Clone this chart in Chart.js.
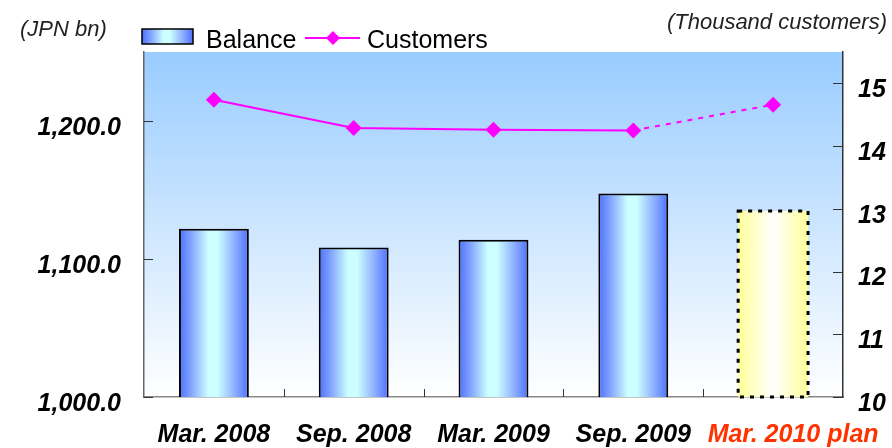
<!DOCTYPE html>
<html>
<head>
<meta charset="utf-8">
<script src="https://cdn.jsdelivr.net/npm/chart.js@4.4.1/dist/chart.umd.min.js"></script>
<style>
  html, body { margin: 0; padding: 0; background: #fff; }
  #wrap { width: 892px; height: 448px; position: relative; }
</style>
</head>
<body>
<div id="wrap"><canvas id="balanceChart" width="892" height="448"></canvas></div>
<script>
var categories = ['Mar. 2008', 'Sep. 2008', 'Mar. 2009', 'Sep. 2009', 'Mar. 2010 plan'];
var balance = [1122, 1108.4, 1114, 1147.4, 1134.8];
var customers = [14.74, 14.29, 14.26, 14.25, 14.66];
var balanceTicks = [1000, 1100, 1200];
var customerTicks = [10, 11, 12, 13, 14, 15];
var labelColors = ['#000', '#000', '#000', '#000', '#ff3300'];

var FONT = "'Liberation Sans', Arial, sans-serif";
var TICK_FONT = { family: FONT, size: 25, weight: 'bold', style: 'italic' };

function barGradient(ctx, x0, x1, plan) {
    var g = ctx.createLinearGradient(x0, 0, x1, 0);
    if (plan) {
        g.addColorStop(0, '#ffff99');
        g.addColorStop(0.5, '#ffffff');
        g.addColorStop(1, '#ffff99');
    } else {
        g.addColorStop(0, '#4a70ff');
        g.addColorStop(0.18, '#85a6ff');
        g.addColorStop(0.42, '#ccffff');
        g.addColorStop(0.55, '#ccffff');
        g.addColorStop(0.82, '#88a8ff');
        g.addColorStop(1, '#4a70ff');
    }
    return g;
}

var decorPlugin = {
    id: 'decor',
    beforeDraw: function(chart) {
        var c = chart.ctx, a = chart.chartArea;
        c.save();
        var g = c.createLinearGradient(0, a.top, 0, a.bottom);
        g.addColorStop(0, '#99ccff');
        g.addColorStop(1, '#ffffff');
        c.fillStyle = g;
        c.fillRect(a.left, a.top, a.right - a.left, a.bottom - a.top);
        c.restore();
    },
    beforeDatasetsDraw: function(chart) {
        // horizontal gradient fill per bar, from the bar's own geometry
        chart.getDatasetMeta(1).data.forEach(function(el, i) {
            var p = el.getProps(['x', 'width'], true);
            if (!isFinite(p.x) || !isFinite(p.width)) return;
            el.options.backgroundColor = barGradient(chart.ctx, p.x - p.width / 2, p.x + p.width / 2, i === 4);
        });
    },
    afterDatasetsDraw: function(chart) {
        // dashed outline of the plan bar
        var c = chart.ctx, a = chart.chartArea;
        var el = chart.getDatasetMeta(1).data[4];
        if (!el) return;
        var p = el.getProps(['x', 'y', 'base', 'width'], true);
        var bottom = Math.min(p.base, a.bottom);
        c.save();
        c.strokeStyle = '#000';
        c.lineWidth = 3;
        c.setLineDash([4, 6]);
        c.strokeRect(p.x - p.width / 2, p.y, p.width, bottom - p.y);
        c.restore();
    },
    afterDraw: function(chart) {
        var c = chart.ctx, a = chart.chartArea;
        var y = chart.scales.y, y1 = chart.scales.y1, x = chart.scales.x;
        c.save();
        // inward tick marks
        c.strokeStyle = '#333';
        c.lineWidth = 1;
        balanceTicks.forEach(function(v) {
            var py = Math.round(y.getPixelForValue(v)) + 0.5;
            c.beginPath(); c.moveTo(a.left, py); c.lineTo(a.left + 9, py); c.stroke();
        });
        customerTicks.forEach(function(v) {
            var py = Math.round(y1.getPixelForValue(v)) + 0.5;
            c.beginPath(); c.moveTo(a.right, py); c.lineTo(a.right - 10, py); c.stroke();
        });
        for (var i = 1; i < categories.length; i++) {
            var px = Math.round((x.getPixelForValue(i - 1) + x.getPixelForValue(i)) / 2) + 0.5;
            c.beginPath(); c.moveTo(px, a.bottom); c.lineTo(px, a.bottom - 8); c.stroke();
        }

        // category labels (the plan label sits a bit to the right, as in the original)
        c.font = 'italic bold 25px ' + FONT;
        c.textAlign = 'center';
        c.textBaseline = 'middle';
        categories.forEach(function(lab, i) {
            var shift = i === categories.length - 1 ? 20 : 0;
            c.fillStyle = labelColors[i];
            c.fillText(lab, x.getPixelForValue(i) + shift, a.bottom + 38);
        });

        // axis titles
        c.fillStyle = '#222';
        c.font = 'italic 22px ' + FONT;
        c.textAlign = 'left';
        c.fillText('(JPN bn)', 20, 30);
        c.textAlign = 'right';
        c.fillText('(Thousand customers)', 887, 23);

        // legend
        c.fillStyle = barGradient(c, 142, 193, false);
        c.fillRect(142, 29, 51, 15);
        c.strokeStyle = '#000';
        c.lineWidth = 1.5;
        c.strokeRect(142, 29, 51, 15);
        c.fillStyle = '#000';
        c.font = '25px ' + FONT;
        c.textAlign = 'left';
        c.textBaseline = 'alphabetic';
        c.fillText('Balance', 206, 48);
        c.strokeStyle = '#ff00ff';
        c.lineWidth = 2;
        c.beginPath(); c.moveTo(305, 38); c.lineTo(360, 38); c.stroke();
        c.fillStyle = '#ff00ff';
        c.beginPath();
        c.moveTo(333, 31); c.lineTo(340, 38); c.lineTo(333, 45); c.lineTo(326, 38);
        c.closePath(); c.fill();
        c.fillStyle = '#000';
        c.fillText('Customers', 367, 48);
        c.restore();
    }
};

var ctx = document.getElementById('balanceChart').getContext('2d');

var balanceChart = new Chart(ctx, {
    type: 'bar',
    data: {
        labels: categories,
        datasets: [{
            type: 'line',
            label: 'Customers',
            data: customers,
            yAxisID: 'y1',
            order: 0,
            borderColor: '#ff00ff',
            backgroundColor: '#ff00ff',
            borderWidth: 2,
            pointStyle: 'rectRot',
            pointRadius: 8,
            pointBorderWidth: 0,
            tension: 0,
            segment: {
                borderDash: function(s) { return s.p1DataIndex === 4 ? [5, 6] : undefined; }
            }
        }, {
            type: 'bar',
            label: 'Balance',
            data: balance,
            yAxisID: 'y',
            order: 1,
            categoryPercentage: 1,
            barPercentage: 0.5,
            borderColor: '#000',
            borderWidth: [2, 2, 2, 2, 0],
            borderSkipped: false,
            backgroundColor: ['#88aaff', '#88aaff', '#88aaff', '#88aaff', '#ffffcc']
        }]
    },
    options: {
        responsive: false,
        animation: false,
        layout: { padding: { top: 52, left: 0, right: 0, bottom: 0 } },
        plugins: {
            legend: { display: false },
            tooltip: { enabled: false }
        },
        scales: {
            x: {
                grid: { display: false, drawTicks: false },
                border: { color: '#888', width: 1.5 },
                ticks: { display: false },
                afterFit: function(s) { s.height = 51; }
            },
            y: {
                position: 'left',
                min: 1000,
                max: 1250,
                grid: { display: false, drawTicks: false },
                border: { color: '#666', width: 1.5 },
                ticks: {
                    stepSize: 100,
                    includeBounds: false,
                    padding: 23,
                    labelOffset: 7,
                    color: '#000',
                    font: TICK_FONT,
                    callback: function(v) {
                        if (balanceTicks.indexOf(v) < 0) return '';
                        return v.toLocaleString('en-US', { minimumFractionDigits: 1 });
                    }
                },
                afterFit: function(s) { s.width = 144; }
            },
            y1: {
                position: 'right',
                min: 10,
                max: 15.5,
                grid: { display: false, drawTicks: false },
                border: { color: '#333', width: 1.5 },
                ticks: {
                    stepSize: 1,
                    includeBounds: false,
                    padding: 15,
                    labelOffset: 7,
                    color: '#000',
                    font: TICK_FONT,
                    callback: function(v) {
                        return customerTicks.indexOf(v) < 0 ? '' : String(v);
                    }
                },
                afterFit: function(s) { s.width = 49; }
            }
        }
    },
    plugins: [decorPlugin]
});
</script>
</body>
</html>
